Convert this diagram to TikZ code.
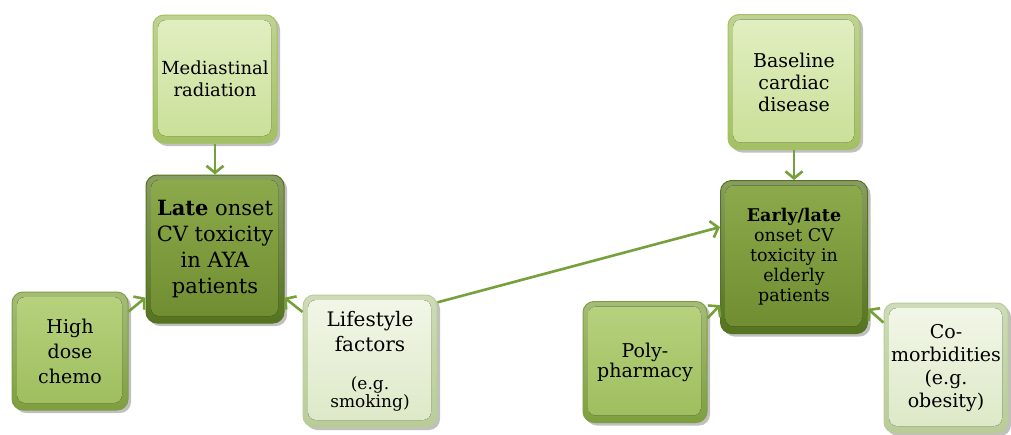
\documentclass[tikz,border=0pt]{standalone}
\usepackage{fontspec}
\setmainfont{DejaVu Serif}
\usetikzlibrary{arrows.meta,shadows}
\definecolor{arrowgreen}{HTML}{76A03A}
\definecolor{lightA}{HTML}{E2EFC2}
\definecolor{lightB}{HTML}{C9DF97}
\definecolor{lightF}{HTML}{A3C063}
\definecolor{darkA}{HTML}{8DAA4C}
\definecolor{darkB}{HTML}{6F8C30}
\definecolor{darkF}{HTML}{55731F}
\definecolor{midA}{HTML}{B8D27E}
\definecolor{midB}{HTML}{9DBD5D}
\definecolor{midF}{HTML}{7E9F40}
\definecolor{paleA}{HTML}{F2F7E8}
\definecolor{paleB}{HTML}{DCE8C6}
\definecolor{paleF}{HTML}{B9CC98}
\tikzset{
  bevel/.style n args={3}{
    rounded corners=11pt, draw=#3, line width=1pt,
    top color=#3!70!white, bottom color=#3,
    drop shadow={shadow xshift=3pt, shadow yshift=-3pt, opacity=0.35, fill=black!70},
    align=center, inner sep=0pt, text=black,
    path picture={
      \fill[rounded corners=8pt, top color=#1, bottom color=#2]
        ([shift={(5pt,-5pt)}]path picture bounding box.north west)
        rectangle ([shift={(-6pt,7pt)}]path picture bounding box.south east);
    }
  },
  lightbox/.style={bevel={lightA}{lightB}{lightF}},
  darkbox/.style={bevel={darkA}{darkB}{darkF}},
  midbox/.style={bevel={midA}{midB}{midF}},
  palebox/.style={bevel={paleA}{paleB}{paleF}},
  arr/.style={draw=arrowgreen, line width=2.6pt, -{Straight Barb[length=7pt,width=17pt]}}
}
\begin{document}
\begin{tikzpicture}[x=1pt,y=-1pt]
\useasboundingbox[fill=white] (0,0) rectangle (1011,434);
% left group
\node[lightbox, minimum width=124pt, minimum height=128pt,
      font=\fontsize{18}{22}\selectfont] (med) at (215,79) {Mediastinal\\radiation};
\node[darkbox, minimum width=138pt, minimum height=148pt,
      font=\fontsize{21}{26}\selectfont] (late) at (215,249)
      {\textbf{Late} onset\\CV toxicity\\in AYA\\patients};
\node[midbox, minimum width=116pt, minimum height=118pt,
      font=\fontsize{19}{25}\selectfont] (high) at (70,351) {High\\dose\\chemo};
\node[palebox, minimum width=134pt, minimum height=132pt,
      font=\fontsize{20}{25}\selectfont] (life) at (370,361)
      {Lifestyle\\factors\\[13pt]{\fontsize{17}{18}\selectfont (e.g.}\\[-7pt]{\fontsize{17}{18}\selectfont smoking)}};
% right group
\node[lightbox, minimum width=132pt, minimum height=135pt,
      font=\fontsize{19}{22}\selectfont] (base) at (794,82) {Baseline\\cardiac\\disease};
\node[darkbox, minimum width=147pt, minimum height=153pt,
      font=\fontsize{17.5}{20}\selectfont] (early) at (794,257)
      {\textbf{Early/late}\\onset CV\\toxicity in\\elderly\\patients};
\node[midbox, minimum width=124pt, minimum height=121pt,
      font=\fontsize{19}{20}\selectfont] (poly) at (645,362) {Poly-\\pharmacy};
\node[palebox, minimum width=124pt, minimum height=130pt,
      font=\fontsize{19}{23}\selectfont] (como) at (946,368)
      {Co-\\morbidities\\(e.g.\\obesity)};
% arrows
\draw[arr] (med.south) -- (late.north);
\draw[arr] (high.34) -- (late.215);
\draw[arr] (life.144) -- (late.325);
\draw[arr] (life.41) -- (early.158);
\draw[arr] (base.south) -- (early.north);
\draw[arr] (poly.35) -- (early.213);
\draw[arr] (como.144) -- (early.325);
\end{tikzpicture}
\end{document}
